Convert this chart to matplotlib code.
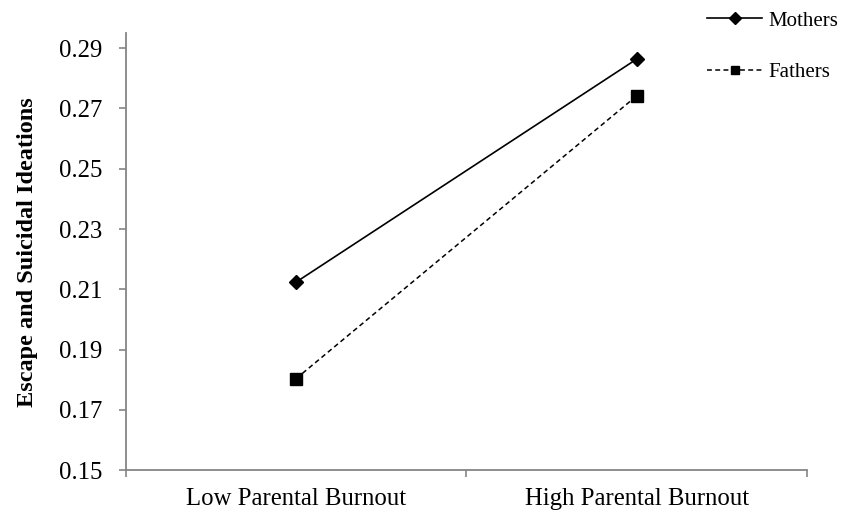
import matplotlib
matplotlib.use("Agg")
import matplotlib.pyplot as plt
from matplotlib.ticker import FixedLocator, FormatStrFormatter

categories = ["Low Parental Burnout", "High Parental Burnout"]
mothers = [0.2124, 0.2864]
fathers = [0.1804, 0.2742]
yticks = [0.15, 0.17, 0.19, 0.21, 0.23, 0.25, 0.27, 0.29]

plt.rcParams['font.family'] = ['Liberation Serif', 'DejaVu Serif']

W, H = 851, 516
fig = plt.figure(figsize=(W / 100, H / 100), dpi=100)
left, right, top, bottom = 125.7, 807.3, 33.3, 470.3
ax = fig.add_axes([left / W, 1 - bottom / H, (right - left) / W, (bottom - top) / H])

x = list(range(len(categories)))
ax.plot(x, mothers, color='black', lw=1.2, marker='D', ms=7.5, label='Mothers')
ax.plot(x, fathers, color='black', lw=1.1, ls=(0, (3.2, 2.2)), marker='s', ms=8.6,
        label='Fathers')

ax.set_xlim(-0.5, len(categories) - 0.5)
ax.set_ylim(0.15, 0.2949)

axis_col = '#858585'
for s in ['top', 'right']:
    ax.spines[s].set_visible(False)
for s in ['left', 'bottom']:
    ax.spines[s].set_color(axis_col)
    ax.spines[s].set_linewidth(1.3)

ax.set_yticks(yticks)
ax.yaxis.set_major_formatter(FormatStrFormatter('%.2f'))
ax.tick_params(axis='y', direction='out', length=5, width=1.2, color=axis_col,
               labelsize=17.8, pad=12, labelcolor='black')

ax.set_xticks(x)
ax.set_xticklabels(categories)
ax.xaxis.set_minor_locator(FixedLocator([i - 0.5 for i in range(len(categories) + 1)]))
ax.tick_params(axis='x', which='major', length=0, labelsize=17.8, pad=13)
ax.tick_params(axis='x', which='minor', direction='out', length=5, width=1.2,
               color=axis_col)

ax.set_ylabel('Escape and Suicidal Ideations', fontsize=17.5, fontweight='bold')
ax.yaxis.set_label_coords((38 - left) / (right - left), 0.5)

leg = ax.legend(loc='upper left', bbox_to_anchor=(707 / W, 1 - 11 / H),
                bbox_transform=fig.transFigure, frameon=False, fontsize=15,
                handlelength=2.64, handletextpad=0.3, labelspacing=1.55,
                borderpad=0, borderaxespad=0, markerscale=0.75)

fig.savefig('out.png', dpi=100, facecolor='white')
